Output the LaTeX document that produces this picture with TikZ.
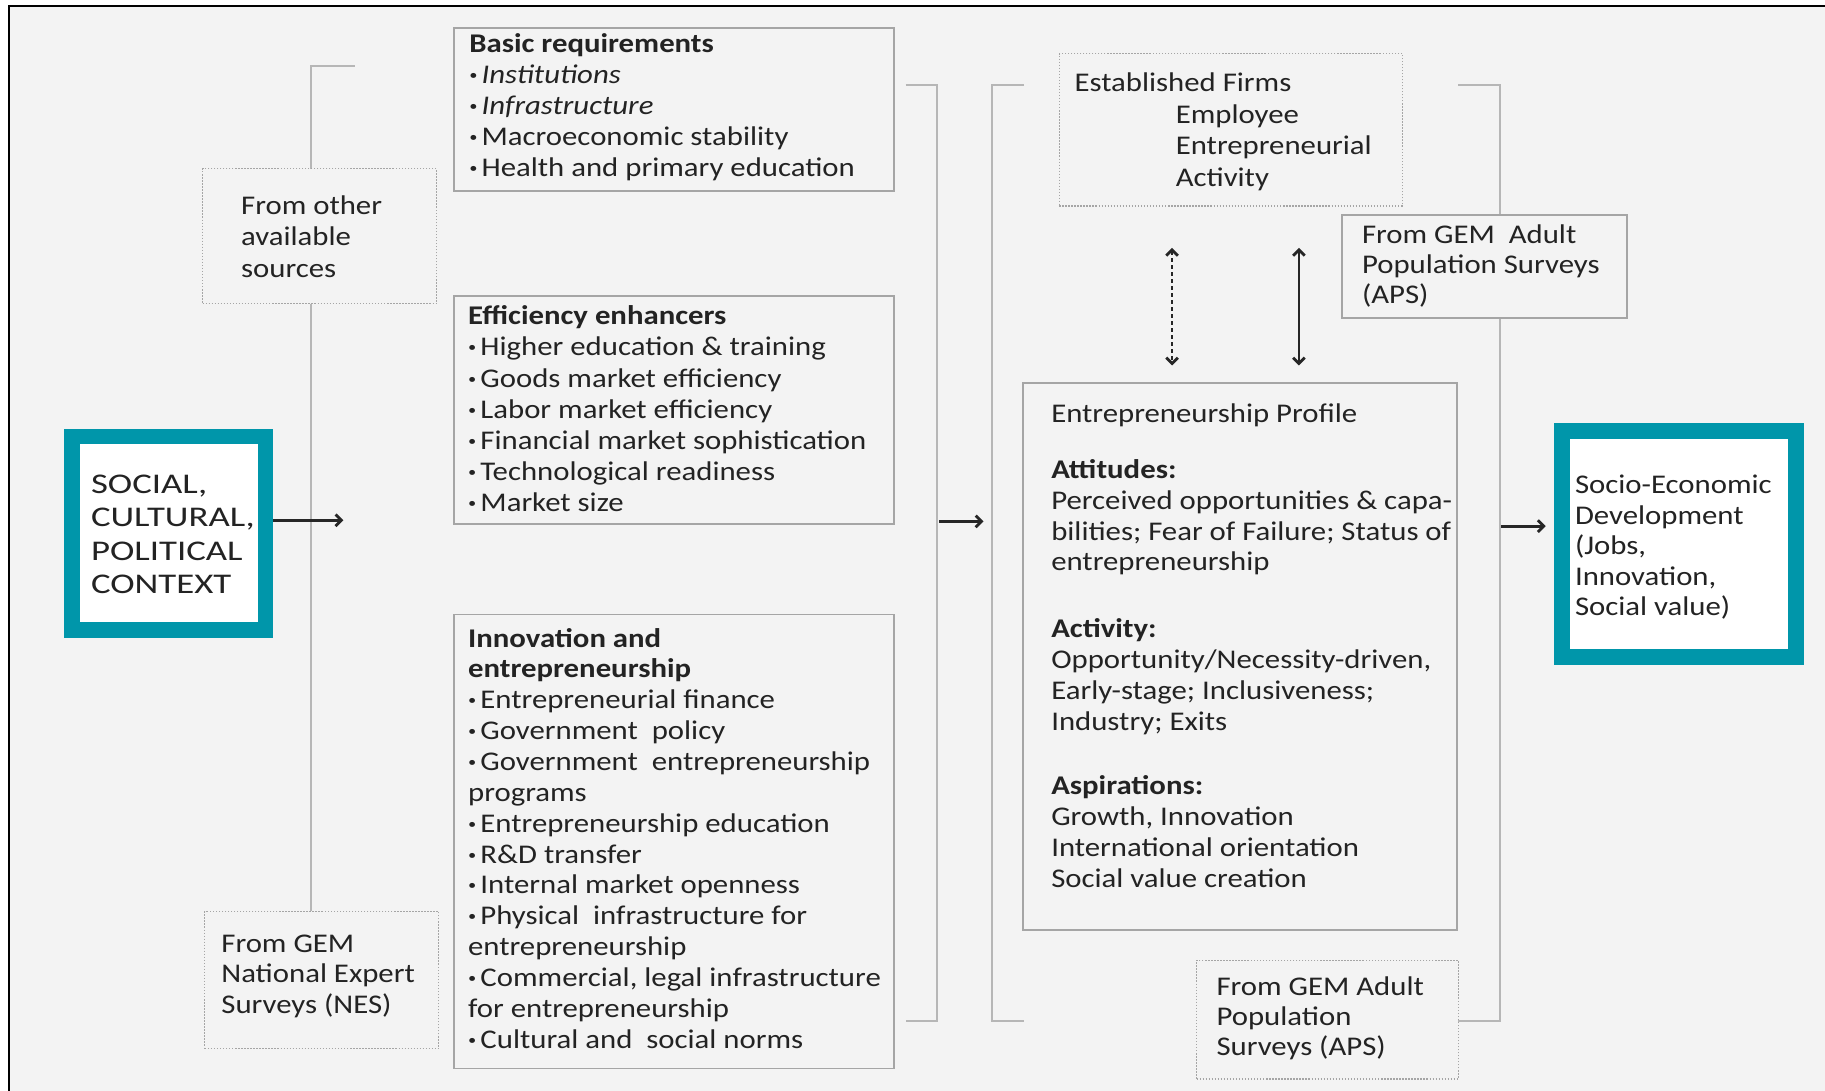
\documentclass[tikz,border=0pt]{standalone}
\usepackage{fontspec}
\setmainfont{Carlito}[FakeStretch=1.14]
\newfontfamily\capsfont{Carlito}[FakeStretch=1.29]
\usetikzlibrary{arrows.meta}
\definecolor{paper}{RGB}{243,243,243}
\definecolor{ink}{RGB}{35,35,35}
\definecolor{boxline}{RGB}{165,165,165}
\definecolor{ruleline}{RGB}{182,182,182}
\definecolor{tealc}{RGB}{0,150,170}
\newcommand\textlines[1]{\begin{tabular}[t]{@{}l@{}}#1\end{tabular}}
\newcommand\bul{\textbf{·}\hspace{3.5pt}}
\begin{document}
\begin{tikzpicture}[x=1pt,y=-1pt,
  body/.style={anchor=base west, inner sep=0pt, text=ink, font=\fontsize{23.2}{26.5}\selectfont},
  solidbox/.style={draw=boxline, line width=1.6pt, fill=paper, inner sep=0pt},
  dotbox/.style={draw=boxline, line width=1.1pt, dash pattern=on 1.2pt off 1.4pt, fill=paper, inner sep=0pt},
  tealbox/.style={draw=tealc, line width=13.5pt, fill=white, inner sep=0pt},
  bracket/.style={draw=ruleline, line width=1.8pt},
  tip/.tip={Straight Barb[length=5pt,width=10pt,line width=2.4pt]},
  arr/.style={draw=black!85, line width=2.6pt, -tip},
  dbl/.style={draw=black!85, line width=2.4pt, tip-tip}]
\useasboundingbox (0,0) rectangle (1568,937);
% sheet and its edge
\fill[white] (0,0) rectangle (1568,937);
\fill[paper] (8,5) rectangle (1568,937);
\draw[line width=2pt] (8,937) -- (8,5) -- (1568,5);

% bracket corners
\coordinate (lbTop) at (305,57);
\coordinate (lbBot) at (267,783);
\coordinate (c1a) at (778,73);  \coordinate (c1b) at (778,877);
\coordinate (c2a) at (880,73);  \coordinate (c2b) at (880,877);
\coordinate (c3a) at (1253,73); \coordinate (c3b) at (1253,877);

% brackets
\draw[bracket] (lbTop) -- (267,57) -- (lbBot);
\draw[bracket] (c1a) -- (805,73) -- (805,877) -- (c1b);
\draw[bracket] (c2a) -- (852,73) -- (852,877) -- (c2b);
\draw[bracket] (c3a) -- (1289,73) -- (1289,877) -- (c3b);

% boxes
\node[tealbox, minimum width=166pt, minimum height=166pt] (ctx) at (145,458) {};
\node[dotbox, minimum width=201pt, minimum height=116pt] (other) at (274.5,203) {};
\node[dotbox, minimum width=201pt, minimum height=118pt] (nes) at (276.5,842) {};
\node[solidbox, minimum width=378pt, minimum height=140pt] (basic) at (579,94) {};
\node[solidbox, minimum width=378pt, minimum height=196pt] (effic) at (579,352) {};
\node[solidbox, minimum width=378pt, minimum height=390pt] (innov) at (579,723) {};
\node[dotbox, minimum width=295pt, minimum height=131pt] (estab) at (1057.5,111.5) {};
\node[solidbox, minimum width=245pt, minimum height=88pt] (apsTop) at (1275.5,229) {};
\node[solidbox, minimum width=373pt, minimum height=470pt] (profile) at (1065.5,564) {};
\node[dotbox, minimum width=225pt, minimum height=102pt] (apsBot) at (1140.5,876) {};
\node[tealbox, minimum width=201pt, minimum height=194pt] (socio) at (1442.5,467.5) {};

% texts
\node[body, font=\capsfont\fontsize{24.5}{28.7}\selectfont] (ctxT) at (78,424)
  {\textlines{SOCIAL,\\ CULTURAL,\\ POLITICAL\\ CONTEXT}};
\node[body, font=\fontsize{23.2}{27}\selectfont] (otherT) at (207,184)
  {\textlines{From other\\ available\\ sources}};
\node[body] (nesT) at (190,818)
  {\textlines{From GEM\\ National Expert\\ Surveys (NES)}};
\node[body, font=\fontsize{23.2}{26.7}\selectfont] (basicT) at (403,45)
  {\textlines{\textbf{Basic requirements}\\ \bul\textit{Institutions}\\ \bul\textit{Infrastructure}\\
   \bul Macroeconomic stability\\ \bul Health and primary education}};
\node[body, font=\fontsize{23.2}{26.8}\selectfont] (efficT) at (402,279)
  {\textlines{\textbf{Efficiency enhancers}\\ \bul Higher education \& training\\ \bul Goods market efficiency\\
   \bul Labor market efficiency\\ \bul Financial market sophistication\\ \bul Technological readiness\\ \bul Market size}};
\node[body] (innovT) at (402,556)
  {\textlines{\textbf{Innovation and}\\ \textbf{entrepreneurship}\\ \bul Entrepreneurial finance\\
   \bul Government~ policy\\ \bul Government~ entrepreneurship\\ programs\\ \bul Entrepreneurship education\\
   \bul R\&D transfer\\ \bul Internal market openness\\ \bul Physical~ infrastructure for\\ entrepreneurship\\
   \bul Commercial, legal infrastructure\\ for entrepreneurship\\ \bul Cultural and~ social norms}};
\node[body, font=\fontsize{23.2}{27}\selectfont] (estabT) at (923,79)
  {\textlines{Established Firms\\ \hspace{87pt}Employee\\ \hspace{87pt}Entrepreneurial\\ \hspace{87pt}Activity}};
\node[body, font=\fontsize{23.2}{26}\selectfont] (apsTopT) at (1170,209)
  {\textlines{From GEM~ Adult\\ Population Surveys\\ (APS)}};
\node[body] (profT) at (903,363) {Entrepreneurship Profile};
\node[body] (attT) at (903,411)
  {\textlines{\textbf{Attitudes:}\\ Perceived opportunities \& capa-\\ bilities; Fear of Failure; Status of\\ entrepreneurship}};
\node[body] (actT) at (903,548)
  {\textlines{\textbf{Activity:}\\ Opportunity/Necessity-driven,\\ Early-stage; Inclusiveness;\\ Industry; Exits}};
\node[body] (aspT) at (903,683)
  {\textlines{\textbf{Aspirations:}\\ Growth, Innovation\\ International orientation\\ Social value creation}};
\node[body, font=\fontsize{23.2}{26}\selectfont] (apsBotT) at (1045,855)
  {\textlines{From GEM Adult\\ Population\\ Surveys (APS)}};
\node[body, font=\fontsize{23.2}{26.3}\selectfont] (socioT) at (1353,424)
  {\textlines{Socio-Economic\\ Development\\ (Jobs,\\ Innovation,\\ Social value)}};

% arrows
\coordinate (ctxEnd) at (295,447);
\coordinate (midA) at (807,448);  \coordinate (midB) at (845,448);
\coordinate (outA) at (1290,452); \coordinate (outB) at (1328,452);
\coordinate (dotTop) at (1007,213); \coordinate (dotBot) at (1007,314);
\coordinate (solTop) at (1116,213); \coordinate (solBot) at (1116,314);
\draw[arr] (ctx.east |- ctxEnd) -- (ctxEnd);
\draw[arr] (midA) -- (midB);
\draw[arr] (outA) -- (outB);
\draw[dbl, dash pattern=on 3.5pt off 2.5pt] (dotTop) -- (dotBot);
\draw[dbl] (solTop) -- (solBot);
\end{tikzpicture}
\end{document}
